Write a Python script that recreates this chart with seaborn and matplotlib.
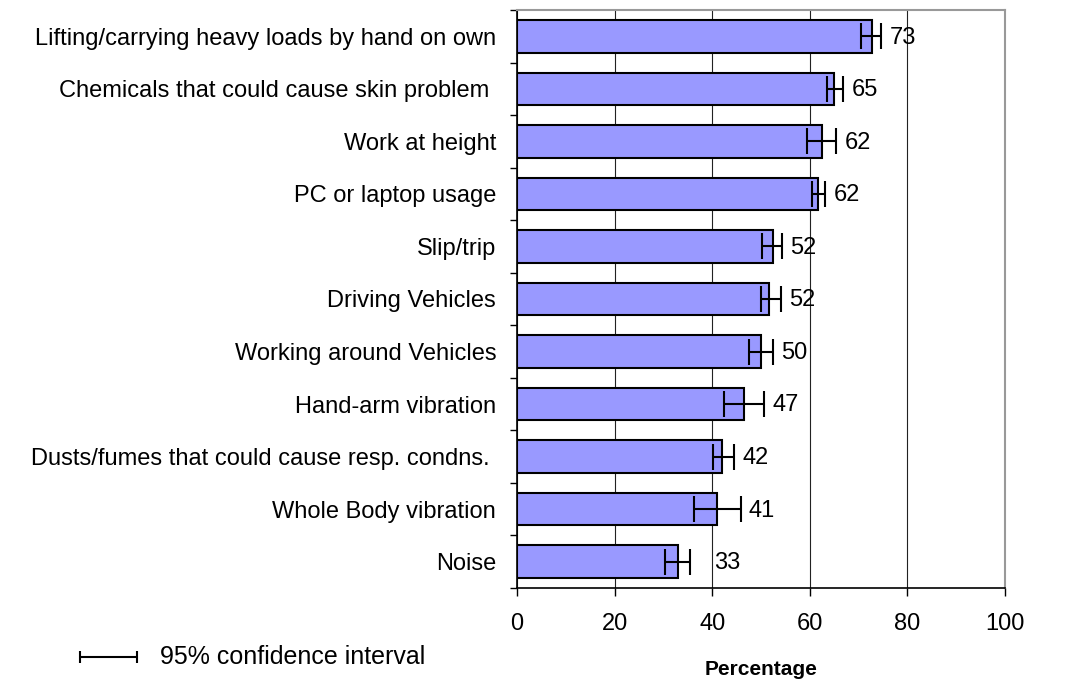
import numpy as np
import pandas as pd
import seaborn as sns
import matplotlib.pyplot as plt
from matplotlib.lines import Line2D

# datos
riesgos = [
    "Lifting/carrying heavy loads by hand on own",
    "Chemicals that could cause skin problem ",
    "Work at height",
    "PC or laptop usage",
    "Slip/trip",
    "Driving Vehicles",
    "Working around Vehicles",
    "Hand-arm vibration",
    "Dusts/fumes that could cause resp. condns. ",
    "Whole Body vibration",
    "Noise",
]
porcentaje = [72.8, 65.0, 62.4, 61.7, 52.5, 51.7, 49.9, 46.6, 42.1, 41.0, 32.9]
ic_bajo = [70.5, 63.6, 59.4, 60.5, 50.3, 49.9, 47.6, 42.5, 40.2, 36.3, 30.3]
ic_alto = [74.6, 66.9, 65.4, 63.1, 54.3, 54.0, 52.4, 50.6, 44.4, 45.8, 35.5]
etiquetas = ["73", "65", "62", "62", "52", "52", "50", "47", "42", "41", "33"]

df = pd.DataFrame({"riesgo": riesgos, "pct": porcentaje})

sns.set_theme(style="white")
plt.rcParams['font.family'] = ['Liberation Sans', 'DejaVu Sans']
plt.rcParams['text.color'] = 'black'
plt.rcParams['xtick.color'] = 'black'
plt.rcParams['ytick.color'] = 'black'
plt.rcParams['axes.labelcolor'] = 'black'

fig = plt.figure(figsize=(10.87, 6.82), dpi=100)
ax = fig.add_axes([517/1087, 1 - 588/682, (1005 - 517)/1087, (588 - 10)/682])

sns.barplot(data=df, y="riesgo", x="pct", orient="h", color="#9999FF",
            edgecolor="black", linewidth=1.5, width=0.62, saturation=1,
            errorbar=None, ax=ax, zorder=3)

pos = np.arange(len(riesgos))
low = np.array(porcentaje) - np.array(ic_bajo)
high = np.array(ic_alto) - np.array(porcentaje)
ax.errorbar(porcentaje, pos, xerr=[low, high], fmt="none", ecolor="black",
            elinewidth=1.5, capsize=9.5, capthick=1.5, zorder=4)

for i, txt in enumerate(etiquetas):
    extra = 17 if i == len(etiquetas) - 1 else 6
    ax.annotate(txt, (ic_alto[i], pos[i]), xytext=(extra, -1),
                textcoords="offset points", va="center", ha="left", fontsize=17)

ax.set_xlim(0, 100)
ax.set_ylim(len(riesgos) - 0.5, -0.5)
ax.set_xticks([0, 20, 40, 60, 80, 100])
ax.xaxis.grid(True, color="#222222", linewidth=0.8)
ax.set_axisbelow(True)

ax.set_yticks(np.arange(-0.5, len(riesgos), 1), minor=True)
ax.tick_params(axis="y", which="major", length=0, pad=15, labelsize=17)
ax.tick_params(axis="y", which="minor", length=5, width=1, color="black", direction="out", left=True)
ax.tick_params(axis="x", length=6, width=1, color="black", direction="out", bottom=True, pad=12, labelsize=17)

ax.set_ylabel("")
ax.set_xlabel("Percentage", fontsize=15, fontweight="bold", labelpad=18)

for lado in ["left", "bottom"]:
    ax.spines[lado].set_color("black")
    ax.spines[lado].set_linewidth(1.2)
for lado in ["top", "right"]:
    ax.spines[lado].set_color("#999999")
    ax.spines[lado].set_linewidth(1.5)

# leyenda del intervalo de confianza
yl = 1 - 657/682
fig.add_artist(Line2D([80/1087, 137/1087], [yl, yl], color="black", linewidth=1.5,
                      marker="|", markersize=9, markeredgewidth=1.5))
fig.text(160/1087, yl, "95% confidence interval", va="center", ha="left", fontsize=18)

fig.savefig("out.png", dpi=100)
